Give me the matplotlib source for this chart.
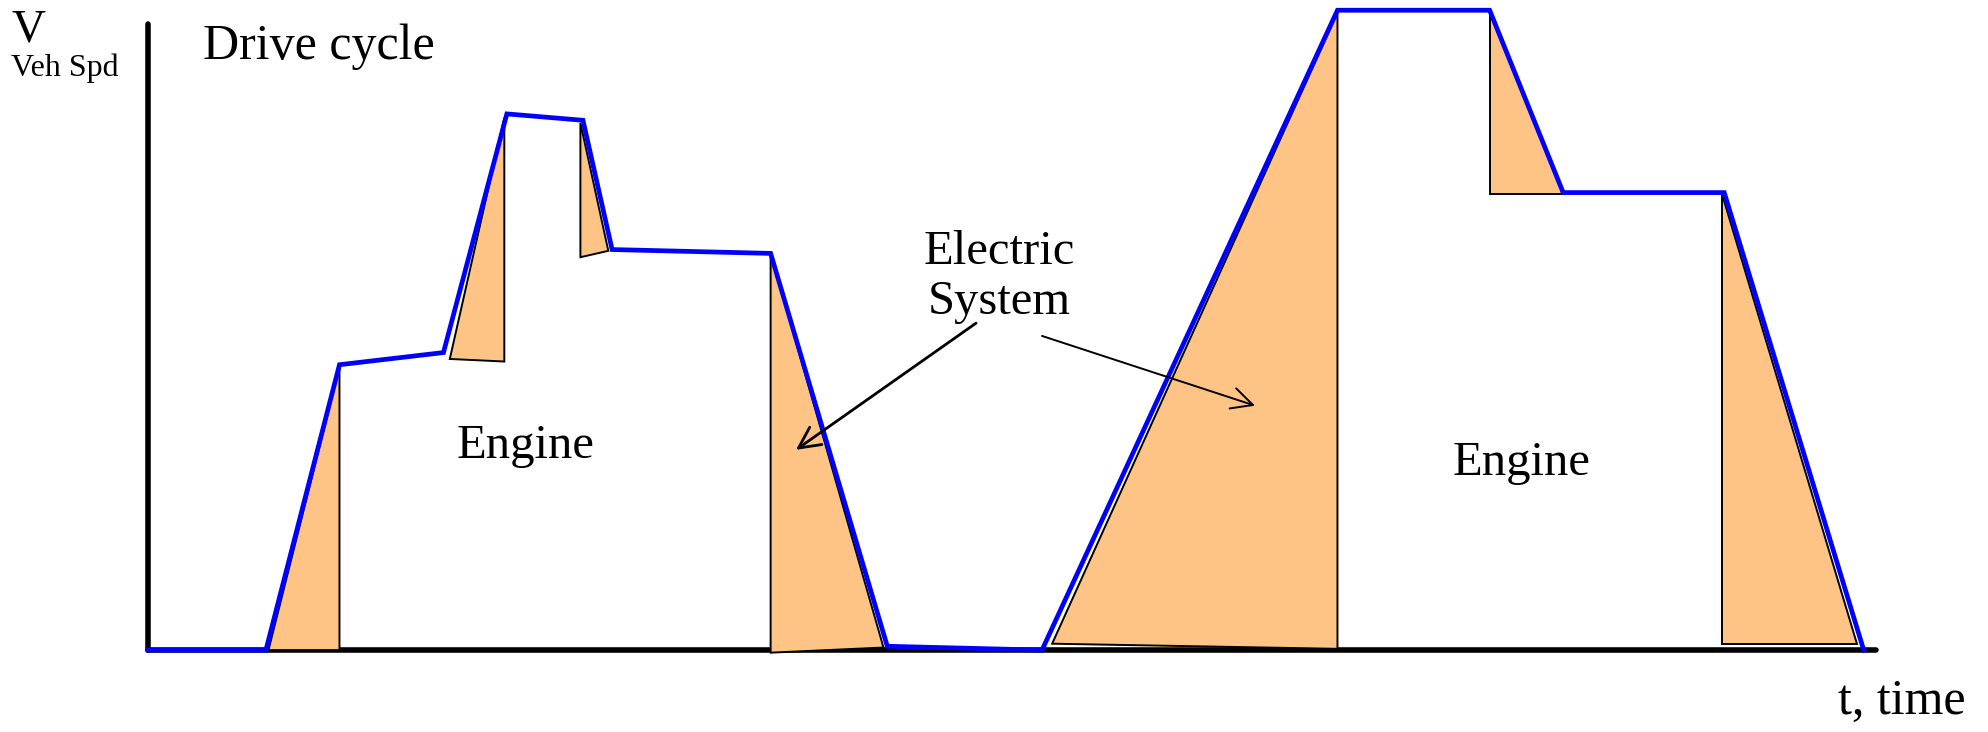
import matplotlib.pyplot as plt
from matplotlib.patches import Polygon

# drive cycle, time (s) vs vehicle speed (% of max)
time = [0, 93, 151, 233, 283, 343, 366, 491, 583, 705, 938, 1058, 1116, 1243, 1353]
speed = [0, 0, 44.6, 46.5, 83.8, 82.8, 62.6, 62.0, 0.6, 0, 100, 100, 71.5, 71.5, 0]

# electric system assist / regen regions, each one (time, speed) triangle
electric_t = [
    [95, 151, 151],
    [238, 281, 281],
    [341, 341, 363],
    [491, 491, 580],
    [713, 938, 938],
    [1058, 1058, 1116],
    [1241, 1241, 1348],
]
electric_v = [
    [0, 44.2, 0],
    [45.5, 83.2, 45.1],
    [82.4, 61.4, 62.4],
    [62.0, -0.4, 0.4],
    [1.0, 99.6, 0.2],
    [99.6, 71.3, 71.3],
    [71.3, 1.0, 1.0],
]

FILL = '#fdc486'
SERIF = ['Liberation Serif', 'DejaVu Serif']

fig = plt.figure(figsize=(19.88, 7.32), dpi=100)
ax = fig.add_axes([0, 0, 1, 1])
ax.set_xlim(-116.7, 1451)
ax.set_ylim(-12.8, 101.6)

for tt, vv in zip(electric_t, electric_v):
    ax.add_patch(Polygon(list(zip(tt, vv)), closed=True, facecolor=FILL,
                         edgecolor='black', linewidth=1.4, zorder=2))

ax.plot(time, speed, color='#0000ff', linewidth=3.4, zorder=3,
        solid_joinstyle='miter')

# axes drawn as two thick black spines
for side in ['top', 'right']:
    ax.spines[side].set_visible(False)
ax.spines['left'].set_position(('data', 0))
ax.spines['bottom'].set_position(('data', 0))
ax.spines['left'].set_bounds(0, 97.8)
ax.spines['bottom'].set_bounds(0, 1363)
for side in ['left', 'bottom']:
    ax.spines[side].set_linewidth(4)
    ax.spines[side].set_capstyle('round')
    ax.spines[side].set_zorder(1)
ax.set_xticks([])
ax.set_yticks([])

ax.text(-108, 96.8, 'V', fontsize=34, family=SERIF, va='center', ha='left')
ax.text(-108, 91.0, 'Veh Spd', fontsize=23, family=SERIF, va='center', ha='left')
ax.text(43, 94.3, 'Drive cycle', fontsize=36, family=SERIF, va='center', ha='left')
ax.text(1433, -8.0, 't, time', fontsize=36, family=SERIF, va='center', ha='right')

ax.text(298, 31.9, 'Engine', fontsize=35, family=SERIF, va='center', ha='center')
ax.text(1083, 29.3, 'Engine', fontsize=35, family=SERIF, va='center', ha='center')
ax.text(671, 58.3, 'Electric\nSystem', fontsize=35, family=SERIF, va='center',
        ha='center', multialignment='center', linespacing=1.2)

arrow = dict(arrowstyle='->', color='black', linewidth=2.0, mutation_scale=38,
             shrinkA=0, shrinkB=0)
ax.annotate('', xy=(511, 31.3), xytext=(653, 51.1), arrowprops=arrow, zorder=4)
arrow2 = dict(arrow, linewidth=1.4)
ax.annotate('', xy=(873, 38.2), xytext=(705, 49.1), arrowprops=arrow2, zorder=4)

fig.savefig('out.png', dpi=100, facecolor='white')
